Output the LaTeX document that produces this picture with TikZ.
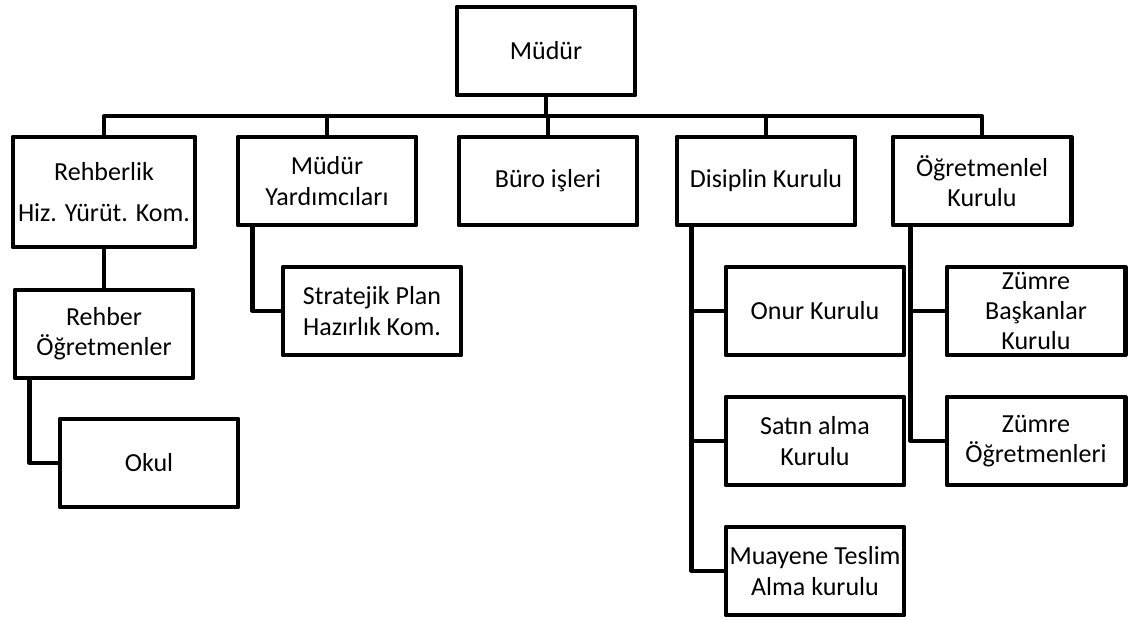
\documentclass[tikz,border=0pt]{standalone}
\usepackage{fontspec}
\setmainfont{Carlito}
\begin{document}
\begin{tikzpicture}[x=0.025cm,y=-0.025cm,
    birim/.style={draw,rectangle,line width=3.5pt,line join=round,minimum width=4.45cm,minimum height=2.2cm,inner sep=0.5pt,align=center,font=\fontsize{18.5}{21.5}\selectfont},
    hat/.style={line width=2.9pt,line join=round}]
    \useasboundingbox (0,0) rectangle (1136,619);

    % top
    \node[birim] (mudur) at (546,51) {Müdür};
    \coordinate (bus) at (546,116);

    % first row
    \node[birim,minimum width=4.55cm,minimum height=2.75cm] (rehberlik) at (104,192) {Rehberlik\\[8pt]Hiz. Yürüt. Kom.};
    \node[birim] (yardimci) at (327,181) {Müdür\\Yardımcıları};
    \node[birim] (buro) at (548,181) {Büro işleri};
    \node[birim] (disiplin) at (766,181) {Disiplin Kurulu};
    \node[birim] (ogretmen) at (982,181) {Öğretmenlel\\Kurulu};

    % lower boxes
    \node[birim] (rehber) at (104,334) {Rehber\\Öğretmenler};
    \node[birim] (okul) at (149,463) {Okul};
    \node[birim] (stratejik) at (372,311) {Stratejik Plan\\Hazırlık Kom.};
    \node[birim] (onur) at (815,311) {Onur Kurulu};
    \node[birim] (satin) at (815,441) {Satın alma\\Kurulu};
    \node[birim] (muayene) at (815,571) {Muayene Teslim\\Alma kurulu};
    \node[birim] (zbaskan) at (1036,311) {Zümre\\Başkanlar\\Kurulu};
    \node[birim] (zogretmen) at (1036,441) {Zümre\\Öğretmenleri};

    % connectors
    \draw[hat] (mudur) -- (bus);
    \draw[hat] (rehberlik.north) |- (bus) -| (ogretmen.north);
    \draw[hat] (yardimci.north) -- (yardimci.north |- bus);
    \draw[hat] (buro.north) -- (buro.north |- bus);
    \draw[hat] (disiplin.north) -- (disiplin.north |- bus);

    \draw[hat] (rehberlik) -- (rehber);
    \draw[hat] ([xshift=0.425cm]rehber.south west) |- (okul.west);
    \draw[hat] ([xshift=0.425cm]yardimci.south west) |- (stratejik.west);

    \draw[hat] ([xshift=0.425cm]disiplin.south west) coordinate (dhat) |- (muayene.west);
    \draw[hat] (dhat |- onur.west) -- (onur.west);
    \draw[hat] (dhat |- satin.west) -- (satin.west);

    \draw[hat] ([xshift=0.5cm]ogretmen.south west) coordinate (ohat) |- (zogretmen.west);
    \draw[hat] (ohat |- zbaskan.west) -- (zbaskan.west);
\end{tikzpicture}
\end{document}
